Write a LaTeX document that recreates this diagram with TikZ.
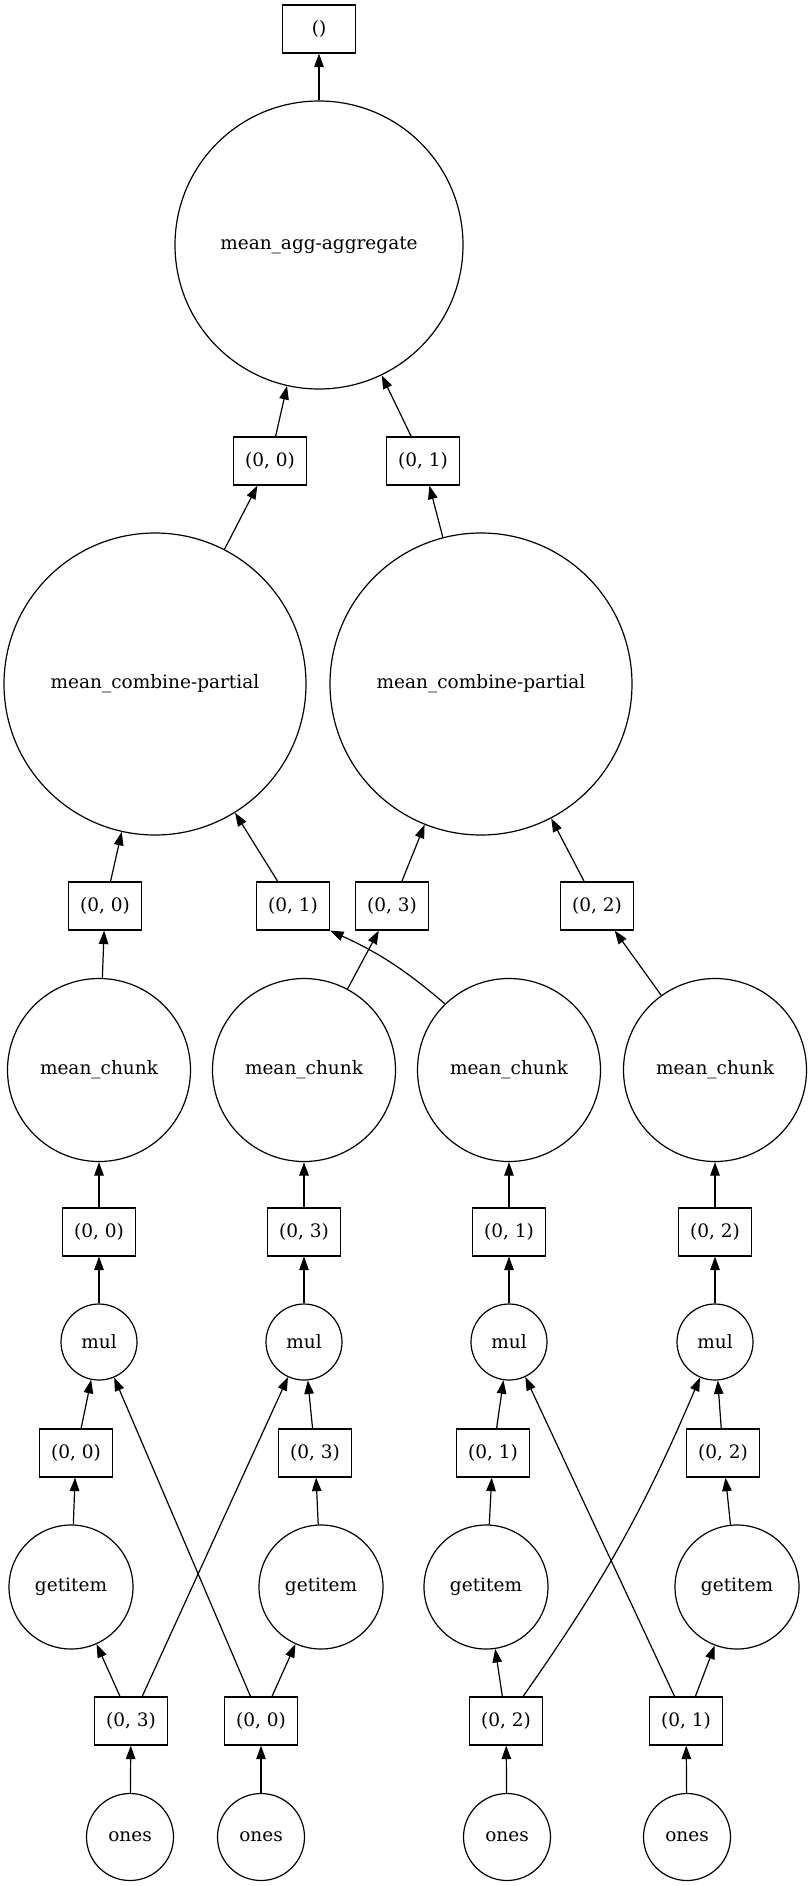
\documentclass[tikz,border=0pt]{standalone}
\usepackage{fontspec}
\setmainfont{DejaVu Serif}
\usetikzlibrary{positioning,arrows.meta}

\begin{document}
\begin{tikzpicture}[x=1pt,y=1pt,line width=1.2pt,
	>={Triangle[length=13.5pt,width=9.5pt]},
	op/.style={draw,circle,inner sep=0pt,font=\fontsize{18.5}{22}\selectfont},
	chunk/.style={draw,rectangle,inner sep=0pt,minimum width=73pt,minimum height=48pt,font=\fontsize{18.5}{22}\selectfont}]
	\useasboundingbox (0,0) rectangle (811,-1886);

	\node[chunk] (out) at (319,-29) {()};
	\node[op,minimum size=288pt] (agg) at (319,-245) {mean\_agg-aggregate};
	\node[chunk] (a0) at (270,-461) {(0, 0)};
	\node[chunk] (a1) at (423,-461) {(0, 1)};
	\node[op,minimum size=302pt] (cpl) at (155,-684) {mean\_combine-partial};
	\node[op,minimum size=302pt] (cpr) at (481,-684) {mean\_combine-partial};
	\node[chunk] (b0) at (105,-906) {(0, 0)};
	\node[chunk] (b1) at (293,-906) {(0, 1)};
	\node[chunk] (b3) at (392,-906) {(0, 3)};
	\node[chunk] (b2) at (597,-906) {(0, 2)};

	\foreach \x/\k [count=\i] in {99/0,304/3,509/1,715/2} {
		\node[op,minimum size=183pt] (mc\i) at (\x,-1070) {mean\_chunk};
		\node[chunk] (c\i) at (\x,-1232) {(0, \k)};
		\node[op,minimum size=76pt] (mul\i) at (\x,-1342) {mul};
	}
	\foreach \dx/\gx/\k [count=\i] in {76/71/0,315/321/3,493/486/1,723/737/2} {
		\node[chunk] (d\i) at (\dx,-1453) {(0, \k)};
		\node[op,minimum size=124pt] (g\i) at (\gx,-1587) {getitem};
	}
	\foreach \ex/\ox/\k [count=\i] in {131/130/3,261/261/0,506/507/2,686/687/1} {
		\node[chunk] (e\i) at (\ex,-1721) {(0, \k)};
		\node[op,minimum size=87pt] (o\i) at (\ox,-1837) {ones};
	}

	\draw[->] (agg) -- (out);
	\draw[->] (a0) -- (agg);
	\draw[->] (a1) -- (agg);
	\draw[->] (cpl) -- (a0);
	\draw[->] (cpr) -- (a1);
	\draw[->] (b0) -- (cpl);
	\draw[->] (b1) -- (cpl);
	\draw[->] (b3) -- (cpr);
	\draw[->] (b2) -- (cpr);
	\draw[->] (mc1) -- (b0);
	\draw[->] (mc2) -- (b3);
	\draw[->] (mc3) to[bend right=8] (b1.south east);
	\draw[->] (mc4) -- (b2);
	\foreach \i in {1,...,4} {
		\draw[->] (c\i) -- (mc\i);
		\draw[->] (mul\i) -- (c\i);
		\draw[->] (d\i) -- (mul\i);
		\draw[->] (g\i) -- (d\i);
		\draw[->] (o\i) -- (e\i);
		\draw[->] (e\i) -- (g\i);
	}
	\draw[->] (e1) -- (mul2);
	\draw[->] (e2) -- (mul1);
	\draw[->] (e3) to[bend right=6] (mul4);
	\draw[->] (e4) -- (mul3);
\end{tikzpicture}
\end{document}
